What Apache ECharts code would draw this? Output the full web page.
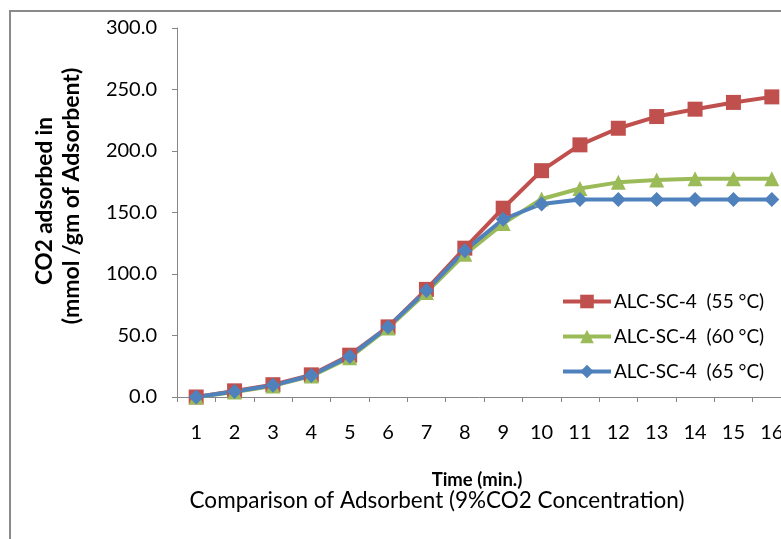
<!DOCTYPE html>
<html>
<head>
<meta charset="utf-8">
<script src="https://cdn.jsdelivr.net/npm/echarts@6/dist/echarts.min.js"></script>
<style>
html,body{margin:0;padding:0;background:#fff;}
#chart{width:781px;height:539px;}
</style>
</head>
<body>
<div id="chart"></div>
<script>
var categories = ['1','2','3','4','5','6','7','8','9','10','11','12','13','14','15','16'];
var seriesNames = ['ALC-SC-4  (55 °C)', 'ALC-SC-4  (60 °C)', 'ALC-SC-4  (65 °C)'];
var values55 = [0, 5, 10, 18, 34, 57, 87.5, 121, 153.5, 184, 205, 218.5, 228, 234, 239.5, 244];
var values60 = [0, 4, 9, 17, 32, 56, 85, 116, 141, 161, 169.5, 174.5, 176.5, 177.5, 177.5, 177.5];
var values65 = [0, 4.5, 9.5, 17.5, 33, 57, 86.5, 119, 144.5, 157, 160.5, 160.5, 160.5, 160.5, 160.5, 160.5];
var yMin = 0, yMax = 300, yInterval = 50;
var yTitleLines = ['CO2 adsorbed in', '(mmol /gm of Adsorbent)'];

var FONT = 'Lato';
var chart = echarts.init(document.getElementById('chart'), null, {renderer: 'canvas'});
function mk(name, data, color, symbol, size) {
  return {
    name: name, type: 'line', data: data,
    symbol: symbol, symbolSize: size, showSymbol: true,
    lineStyle: {color: color, width: 4},
    itemStyle: {color: color},
    emphasis: {disabled: true},
    animation: false
  };
}
chart.setOption({
  backgroundColor: '#fff',
  animation: false,
  title: {
    text: 'Comparison of Adsorbent (9%CO2 Concentration)',
    left: 432, top: 484, textAlign: 'center',
    textStyle: {fontFamily: FONT, fontSize: 22.5, fontWeight: 'normal', color: '#000'}
  },
  graphic: [{
    type: 'rect', z: -1, silent: true,
    shape: {x: 10, y: 11, width: 820, height: 620},
    style: {fill: 'none', stroke: '#8a8a8a', lineWidth: 2}
  }, {
    type: 'text', x: 45, y: 201, rotation: Math.PI / 2, silent: true,
    style: {text: yTitleLines[0], align: 'center', verticalAlign: 'middle',
      font: 'bold 22.5px Lato', fill: '#000'}
  }, {
    type: 'text', x: 72, y: 196, rotation: Math.PI / 2, silent: true,
    style: {text: yTitleLines[1], align: 'center', verticalAlign: 'middle',
      font: 'bold 23px Lato', fill: '#000'}
  }],
  legend: {
    orient: 'vertical', left: 561, top: 292, padding: 0,
    itemWidth: 48, itemHeight: 17, itemGap: 16,
    lineStyle: {width: 4},
    data: seriesNames,
    textStyle: {fontFamily: FONT, fontSize: 19, color: '#000', padding: [0,0,0,-2]}
  },
  grid: {left: 177, top: 28, width: 614, height: 369, containLabel: false, outerBoundsMode: 'none'},
  xAxis: {
    type: 'category', data: categories, boundaryGap: true,
    name: 'Time (min.)', nameLocation: 'middle', nameGap: 74,
    nameTextStyle: {fontFamily: FONT, fontSize: 18.5, fontWeight: 'bold', color: '#000', padding: [0, 14, 0, 0]},
    axisLine: {lineStyle: {color: '#868686', width: 1}},
    axisTick: {show: true, length: 5, lineStyle: {color: '#868686'}},
    axisLabel: {fontFamily: FONT, fontSize: 20, color: '#000', margin: 26},
    splitLine: {show: false}
  },
  yAxis: {
    type: 'value', min: yMin, max: yMax, interval: yInterval,
    axisLine: {show: true, lineStyle: {color: '#868686', width: 1}},
    axisTick: {show: true, length: 5, lineStyle: {color: '#868686'}},
    axisLabel: {fontFamily: FONT, fontSize: 20, color: '#000', margin: 20,
      formatter: function (v) { return v.toFixed(1); }},
    splitLine: {show: false}
  },
  series: [
    mk(seriesNames[0], values55, '#C0504D', 'rect', 15),
    mk(seriesNames[1], values60, '#9BBB59', 'triangle', 15),
    mk(seriesNames[2], values65, '#4F81BD', 'diamond', 15)
  ]
});
</script>
</body>
</html>
